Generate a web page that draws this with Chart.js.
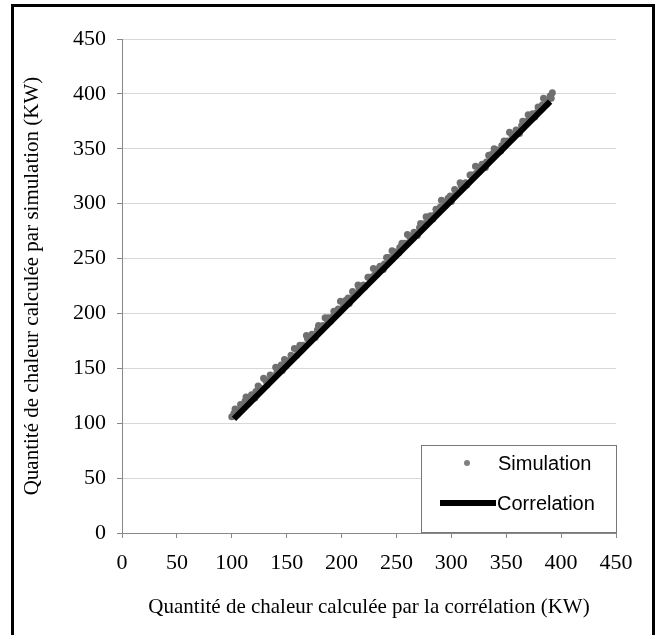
<!DOCTYPE html>
<html>
<head>
<meta charset="utf-8">
<script src="https://cdn.jsdelivr.net/npm/chart.js@4.4.0/dist/chart.umd.min.js"></script>
<style>
  body { margin: 0; background: #fff; }
  #frame { position: absolute; left: 11px; top: 4px; width: 638px; height: 660px; border: 3px solid #000; }
  #wrap { position: absolute; left: 0; top: 0; width: 660px; height: 635px; }
</style>
</head>
<body>
<div id="frame"></div>
<div id="wrap"><canvas id="chart1" width="660" height="635"></canvas></div>
<script>
// Simulation points
const simX = [100, 103, 105, 108, 110, 113, 116, 118, 121, 124, 126, 129, 132, 135, 137, 140, 143, 146, 148, 151,
  154, 157, 159, 162, 165, 168, 171, 173, 176, 179, 182, 185, 187, 190, 193, 196, 199, 201, 204, 207,
  210, 213, 215, 218, 221, 224, 227, 229, 232, 235, 238, 241, 244, 246, 249, 252, 255, 258, 260, 263,
  266, 269, 272, 274, 277, 280, 283, 286, 289, 291, 294, 297, 300, 303, 305, 308, 311, 314, 317, 320,
  322, 325, 328, 331, 334, 336, 339, 342, 345, 348, 351, 353, 356, 359, 362, 365, 368, 370, 373, 376,
  379, 382, 384, 387, 390, 392,
  102, 107, 112, 117, 122, 127, 131, 136, 141, 145, 150, 155, 160, 164, 169, 174, 178, 183, 188, 192,
  197, 202, 206, 211, 216, 220, 225, 230, 234, 239, 243, 248, 253, 257, 262, 267, 271, 276, 281, 285,
  290, 295, 299, 304, 309, 313, 318, 323, 327, 332, 337, 341, 346, 350, 355, 360, 364, 369, 374, 378,
  383, 388, 391];
const simY = [106, 113, 108, 117, 115, 124, 120, 126, 123, 134, 132, 141, 135, 144, 142, 151, 150, 148, 158, 155,
  162, 168, 162, 171, 171, 180, 175, 181, 178, 189, 187, 196, 194, 193, 202, 202, 211, 205, 212, 209,
  220, 218, 226, 225, 224, 233, 233, 241, 236, 243, 240, 251, 249, 257, 256, 255, 264, 264, 272, 267,
  274, 271, 282, 279, 288, 287, 286, 295, 295, 303, 298, 305, 302, 313, 310, 319, 318, 317, 326, 326,
  334, 329, 336, 333, 344, 341, 350, 349, 348, 357, 357, 365, 360, 367, 364, 375, 373, 381, 380, 379,
  388, 388, 396, 391, 398, 401,
  109, 112, 120, 123, 129, 131, 139, 142, 146, 153, 157, 160, 167, 170, 177, 179, 185, 189, 196, 197,
  204, 208, 214, 216, 223, 226, 233, 235, 241, 245, 251, 253, 260, 263, 270, 272, 278, 282, 289, 290,
  297, 301, 307, 309, 316, 319, 326, 328, 334, 338, 345, 346, 353, 356, 363, 365, 371, 375, 382, 383,
  390, 394, 396];

// Correlation line end points
const corX = [102, 390];
const corY = [104, 393];

const axisTicks = [0, 50, 100, 150, 200, 250, 300, 350, 400, 450];

const serif = 'Liberation Serif';

const simPts = simX.map((x, i) => ({ x: x, y: simY[i] }));
const corPts = corX.map((x, i) => ({ x: x, y: corY[i] }));

// legend box drawn inside the plot, bottom right
const legendBox = {
  id: 'legendBox',
  afterDraw(chart) {
    const c = chart.ctx;
    const a = chart.chartArea;
    const x0 = a.right - 195, y0 = a.bottom - 88;
    c.save();
    c.fillStyle = '#fff';
    c.fillRect(x0, y0, 195, 88);
    c.strokeStyle = '#777';
    c.lineWidth = 1;
    c.strokeRect(x0 + 0.5, y0 + 0.5, 195, 87);
    c.font = '20px "Liberation Sans"';
    c.textBaseline = 'middle';
    // Simulation
    c.beginPath();
    c.arc(x0 + 46, y0 + 18, 3, 0, Math.PI * 2);
    c.fillStyle = '#808080';
    c.fill();
    c.fillStyle = '#000';
    c.fillText(chart.data.datasets[0].label, x0 + 77, y0 + 19);
    // Correlation
    c.beginPath();
    c.moveTo(x0 + 19, y0 + 58);
    c.lineTo(x0 + 75, y0 + 58);
    c.lineWidth = 6;
    c.strokeStyle = '#000';
    c.stroke();
    c.fillText(chart.data.datasets[1].label, x0 + 76, y0 + 59);
    c.restore();
  }
};

const ctx = document.getElementById('chart1').getContext('2d');
const myChart = new Chart(ctx, {
  type: 'scatter',
  data: {
    datasets: [
      {
        label: 'Simulation',
        data: simPts,
        backgroundColor: '#6f6f6f',
        borderColor: '#6f6f6f',
        pointRadius: 3.5,
        pointBorderWidth: 0,
        order: 2,
      },
      {
        label: 'Correlation',
        data: corPts,
        showLine: true,
        borderColor: '#000',
        backgroundColor: '#000',
        borderWidth: 6,
        pointRadius: 0,
        order: 1,
      },
    ],
  },
  options: {
    responsive: false,
    animation: false,
    layout: { padding: { left: 0, top: 39, right: 44, bottom: 0 } },
    plugins: {
      legend: { display: false },
      tooltip: { enabled: false },
    },
    scales: {
      x: {
        type: 'linear',
        min: 0,
        max: 450,
        afterBuildTicks: (s) => { s.ticks = axisTicks.map(v => ({ value: v })); },
        afterFit: (s) => { s.height = 102; },
        grid: { display: true, drawOnChartArea: false, tickLength: 5, tickColor: '#888' },
        border: { color: '#888' },
        ticks: { color: '#000', font: { family: serif, size: 22 }, padding: 12, maxRotation: 0 },
        title: {
          display: true,
          text: 'Quantité de chaleur calculée par la corrélation (KW)',
          color: '#000',
          font: { family: serif, size: 21 },
          padding: { top: 0, bottom: 15 },
        },
      },
      y: {
        type: 'linear',
        min: 0,
        max: 450,
        afterBuildTicks: (s) => { s.ticks = axisTicks.map(v => ({ value: v })); },
        afterFit: (s) => { s.width = 122; },
        grid: { color: '#d8d8d8', tickLength: 5, tickColor: '#888' },
        border: { color: '#888' },
        ticks: { color: '#000', font: { family: serif, size: 22 }, padding: 11 },
        title: {
          display: true,
          text: 'Quantité de chaleur calculée par simulation (KW)',
          color: '#000',
          font: { family: serif, size: 21 },
          padding: { top: 20, bottom: 0 },
        },
      },
    },
  },
  plugins: [legendBox],
});
</script>
</body>
</html>
